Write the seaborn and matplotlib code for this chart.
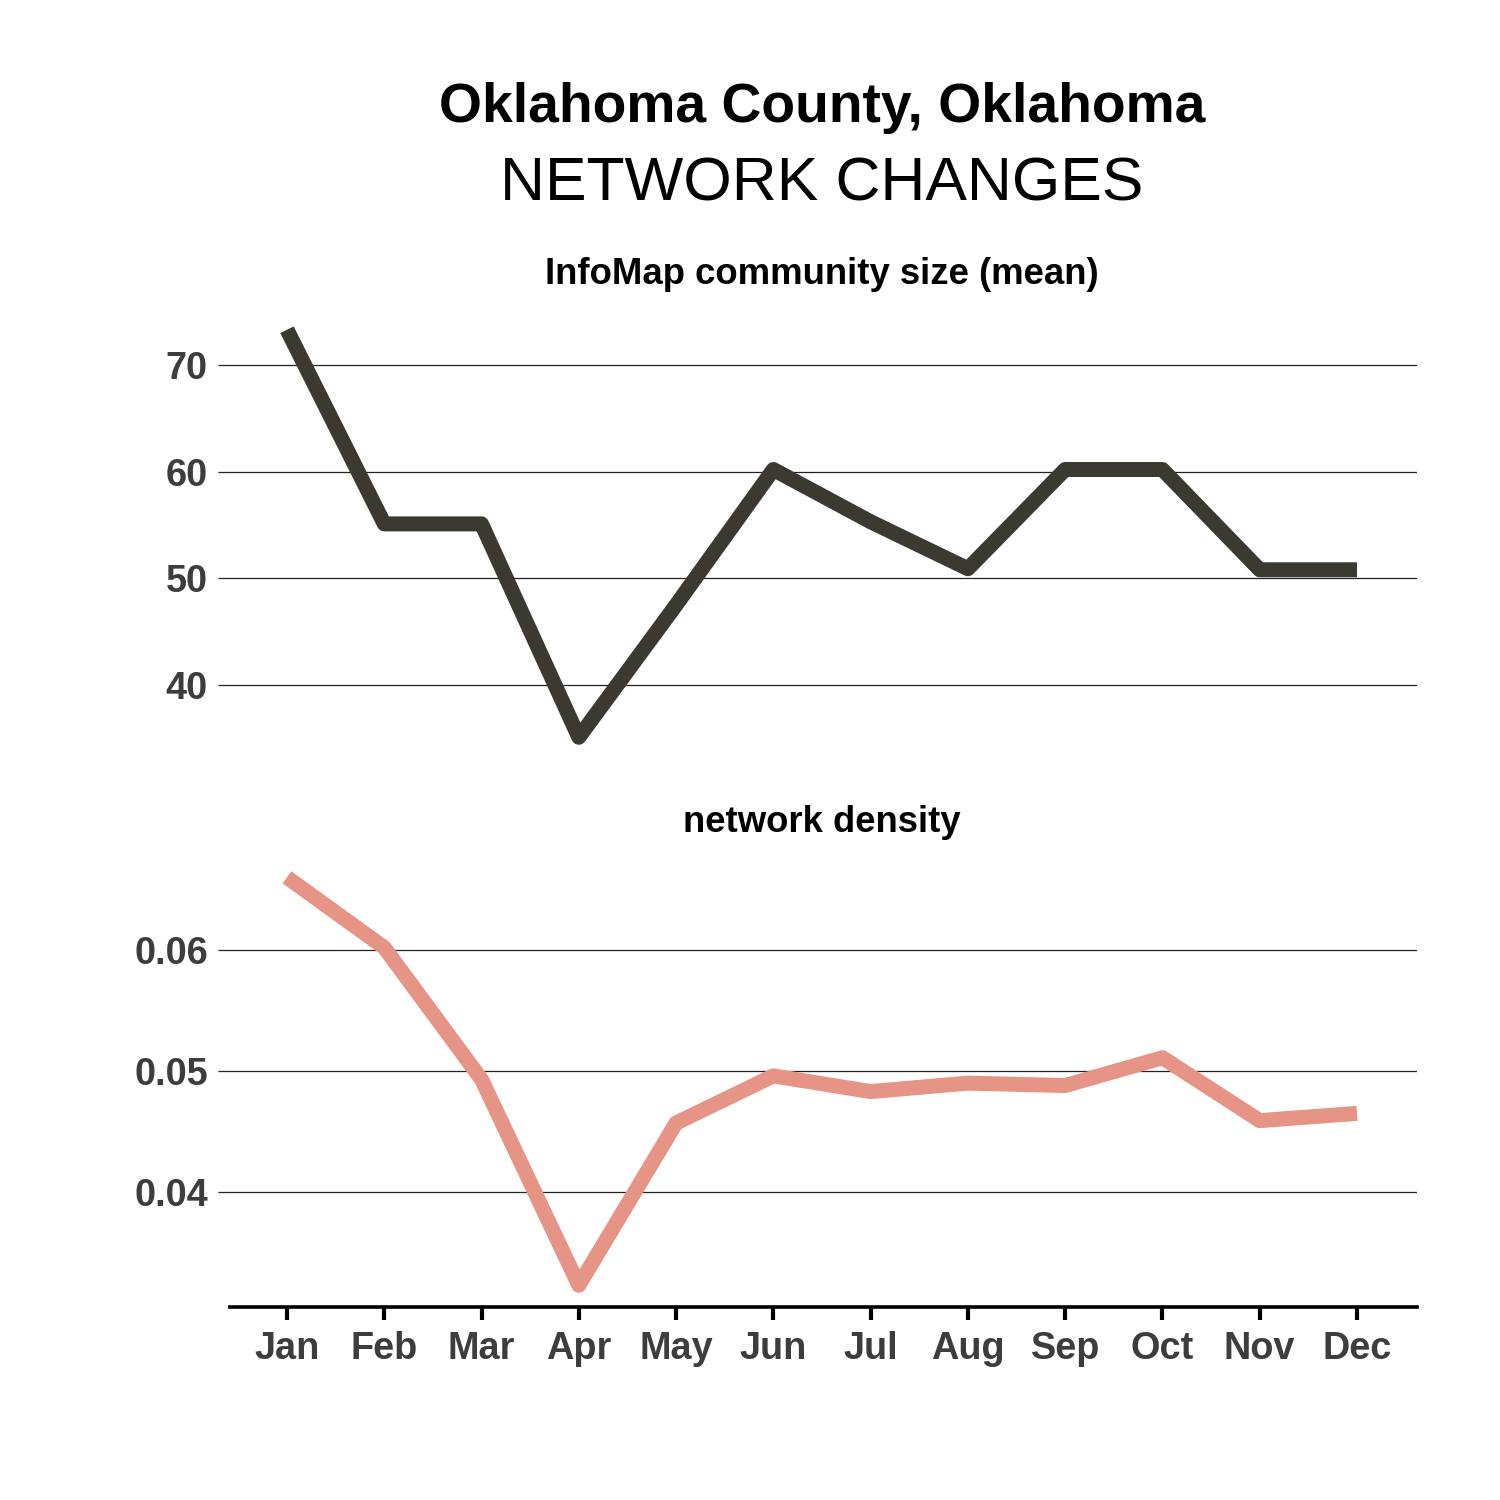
import numpy as np
import pandas as pd
import matplotlib
matplotlib.use("Agg")
import matplotlib.pyplot as plt
import seaborn as sns

months = ["Jan", "Feb", "Mar", "Apr", "May", "Jun", "Jul", "Aug", "Sep", "Oct", "Nov", "Dec"]
community_size = [73.3, 55.1, 55.1, 35.1, 47.5, 60.2, 55.3, 50.9, 60.2, 60.2, 50.8, 50.8]
density = [0.0660, 0.0602, 0.0493, 0.0323, 0.0457, 0.0496, 0.0483, 0.0490, 0.0488, 0.0511, 0.0459, 0.0465]
top_ticks = [40, 50, 60, 70]
bottom_ticks = [0.04, 0.05, 0.06]

title1 = "Oklahoma County, Oklahoma"
title2 = "NETWORK CHANGES"
sub1 = "InfoMap community size (mean)"
sub2 = "network density"

sns.set_theme(style="white")
plt.rcParams["font.family"] = ["Liberation Sans", "DejaVu Sans"]

df = pd.DataFrame({"pos": np.arange(len(months)), "month": months,
                   "size": community_size, "density": density})

fig = plt.figure(figsize=(15, 15), dpi=100)
fig.patch.set_facecolor("white")

ax1 = fig.add_axes([230/1500, 1 - 760/1500, (1417-230)/1500, 450/1500])
ax2 = fig.add_axes([230/1500, 1 - 1307/1500, (1417-230)/1500, 452/1500])

tick_color = "#3d3d3d"

def style(ax, ticks, fmt):
    for s in ["top", "right", "left", "bottom"]:
        ax.spines[s].set_visible(False)
    ax.set_xlim(-0.586, 11.617)
    ax.set_yticks(ticks)
    ax.set_yticklabels([fmt(t) for t in ticks], fontsize=27.3, fontweight="bold", color=tick_color)
    ax.grid(axis="y", color="#222222", linewidth=0.9)
    ax.grid(axis="x", visible=False)
    ax.tick_params(axis="y", length=9, width=0.9, color="#222222", pad=7, left=True)
    ax.set_xlabel("")
    ax.set_ylabel("")
    ax.set_facecolor("white")

sns.lineplot(data=df, x="pos", y="size", ax=ax1, color="#3b3930", linewidth=10.8,
             solid_capstyle="butt", solid_joinstyle="round")
sns.lineplot(data=df, x="pos", y="density", ax=ax2, color="#e59486", linewidth=10.8,
             solid_capstyle="butt", solid_joinstyle="round")

style(ax1, top_ticks, lambda t: f"{t:d}")
style(ax2, bottom_ticks, lambda t: f"{t:.2f}")
ax1.set_ylim(32.97, 75.15)
ax2.set_ylim(0.0305, 0.06785)

ax1.set_xticks([])
ax2.set_xticks(df["pos"])
ax2.set_xticklabels(months, fontsize=27.3, fontweight="bold", color=tick_color)
ax2.tick_params(axis="x", length=9, width=3, color="black", pad=8, bottom=True)
ax2.spines["bottom"].set_visible(True)
ax2.spines["bottom"].set_color("black")
ax2.spines["bottom"].set_linewidth(2.6)

fig.text(822/1500, 1 - 108/1500, title1, ha="center", va="center", fontsize=39.8, fontweight="bold", color="black")
fig.text(822/1500, 1 - 185/1500, title2, ha="center", va="center", fontsize=44.8, color="black")
fig.text(822/1500, 1 - 275/1500, sub1, ha="center", va="center", fontsize=26.3, fontweight="bold", color="black")
fig.text(822/1500, 1 - 823/1500, sub2, ha="center", va="center", fontsize=26.3, fontweight="bold", color="black")

fig.savefig("out.png", dpi=100, facecolor="white")
